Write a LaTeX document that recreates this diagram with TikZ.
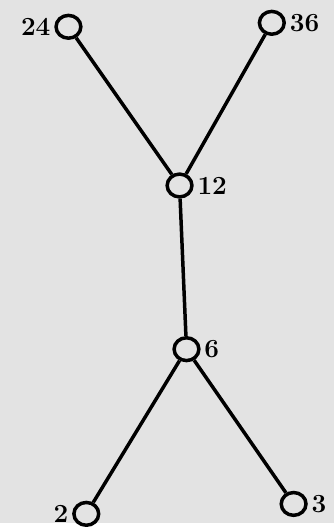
\documentclass[tikz,border=0pt]{standalone}
\usepackage{tikz}
\usetikzlibrary{shapes.geometric,positioning}
\definecolor{paper}{HTML}{E3E3E3}

\begin{document}
\begin{tikzpicture}[vtx/.style={draw,ellipse,line width=2pt,minimum width=0.5cm,minimum height=0.46cm,inner sep=0pt},
		num/.style={font=\fontsize{15}{17}\selectfont\bfseries,inner sep=2pt},
		edge/.style={line width=2pt}]
		\fill[paper] (0,0) rectangle (6.74,10.54);
		\node[vtx] (n24) at (1.38,10.0) {};
		\node[vtx] (n36) at (5.48,10.08) {};
		\node[vtx] (n12) at (3.62,6.8) {};
		\node[vtx] (n6) at (3.76,3.5) {};
		\node[vtx] (n2) at (1.74,0.18) {};
		\node[vtx] (n3) at (5.92,0.38) {};
		\node[num,left=0pt of n24] (t24) {24};
		\node[num,right=0pt of n36] (t36) {36};
		\node[num,right=0pt of n12] (t12) {12};
		\node[num,right=0pt of n6] (t6) {6};
		\node[num,left=0pt of n2] (t2) {2};
		\node[num,right=0pt of n3] (t3) {3};
		\draw[edge] (n24) -- (n12);
		\draw[edge] (n36) -- (n12);
		\draw[edge] (n12) -- (n6);
		\draw[edge] (n6) -- (n2);
		\draw[edge] (n6) -- (n3);
	\end{tikzpicture}
\end{document}
